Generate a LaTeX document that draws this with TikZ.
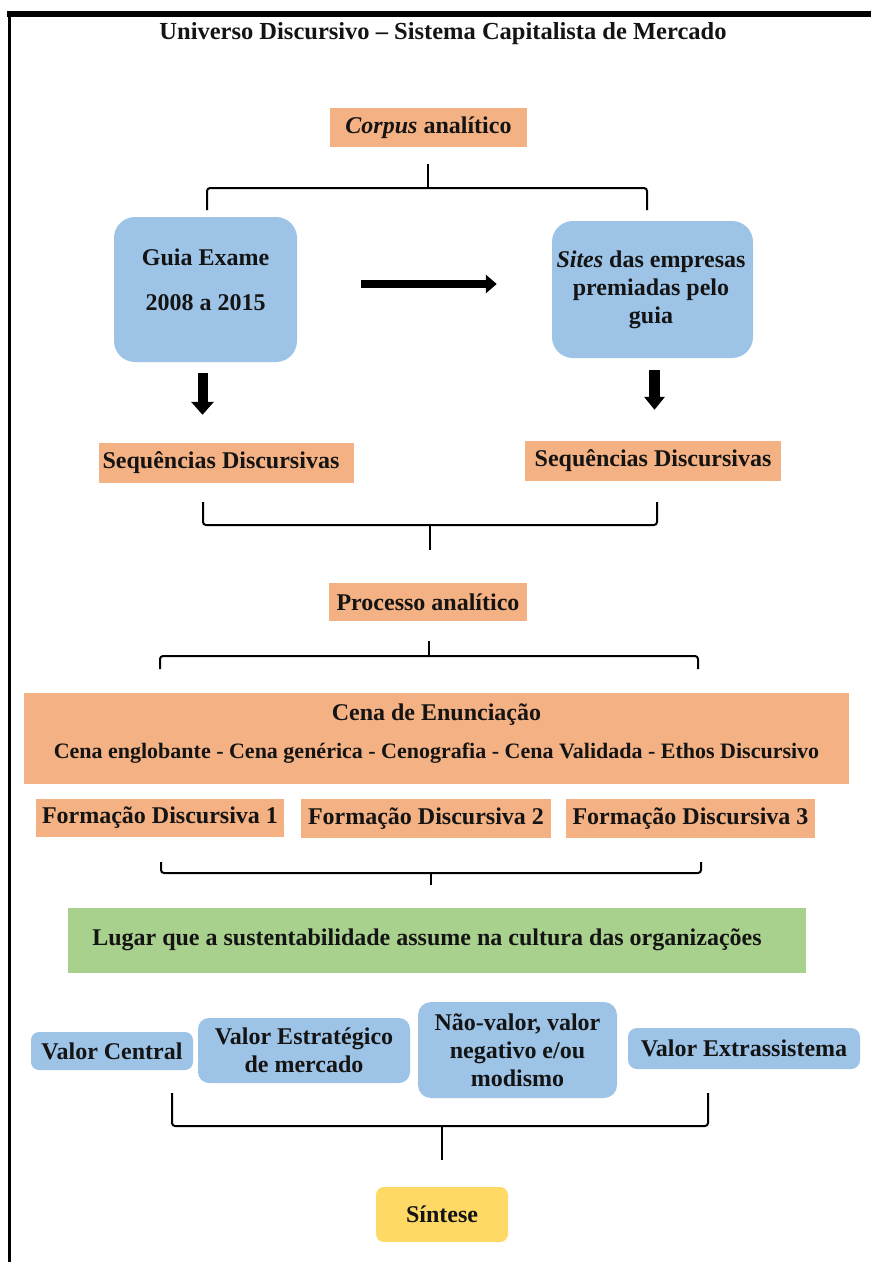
\documentclass[tikz,border=0pt]{standalone}
\usepackage{fontspec}
\setmainfont{Liberation Serif}
\usetikzlibrary{arrows.meta}
\definecolor{salmon}{HTML}{F4B183}
\definecolor{bluebx}{HTML}{9DC3E6}
\definecolor{greenbx}{HTML}{A9D18E}
\definecolor{yellowbx}{HTML}{FFD966}
\definecolor{inktxt}{HTML}{141414}
\tikzset{
  sz/.style 2 args={minimum width=#1pt, minimum height=#2pt, inner sep=0pt},
  salbox/.style={fill=salmon, draw=none},
  bluebox/.style={fill=bluebx, draw=none, rounded corners=#1pt},
  bluebox/.default=9,
  greenbox/.style={fill=greenbx, draw=none},
  yellowbox/.style={fill=yellowbx, draw=none, rounded corners=8pt},
  txt/.style={align=center, inner sep=0pt, text=inktxt},
  bracket/.style={draw=black, line width=2pt, rounded corners=3pt},
  darrow/.style={draw=black, line width=10pt, -{Triangle[width=22pt,length=13pt]}},
  harrow/.style={draw=black, line width=8pt, -{Triangle[width=18pt,length=11pt]}},
}
\begin{document}
\begin{tikzpicture}[x=1pt, y=-1pt, font=\bfseries\fontsize{24}{28}\selectfont, text=inktxt]
\useasboundingbox (0,0) rectangle (871,1262);
\fill[white] (0,0) rectangle (871,1262);
% page frame
\draw[line width=6pt] (7,14) -- (871,14);
\draw[line width=3pt] (9,11) -- (9,1262);

% title
\node[txt, font=\bfseries\fontsize{24.5}{28}\selectfont] (title) at (443,34) {Universo Discursivo -- Sistema Capitalista de Mercado};

% corpus
\node[salbox, sz={197}{39}, txt] (corpus) at (428.5,127.5) {\textit{Corpus} analítico};
\coordinate (b1s) at (428,164);
\coordinate (b1m) at (428,188);
\coordinate (b1l) at (207,210);
\coordinate (b1r) at (647,210);
\draw[bracket] (b1l) -- (b1l |- b1m) -- (b1r |- b1m) -- (b1r);
\draw[bracket] (b1s) -- (b1m);

% sources
\node[bluebox=21, sz={183}{145}] (guia) at (205.5,289.5) {};
\node[txt] (guiat) at (205.5,279.5) {Guia Exame\\[17pt]2008 a 2015};
\node[bluebox=21, sz={201}{137}] (sites) at (652.5,289.5) {};
\node[txt] (sitest) at (651,289.5) {\textit{Sites} das empresas\\premiadas pelo\\guia};

\draw[harrow, shorten <=64pt, shorten >=55pt] ([yshift=5.5pt]guia.east) -- ([yshift=5.5pt]guia.east -| sites.west);

% sequences
\node[salbox, sz={255}{40}] (seq1) at (226.5,463) {};
\node[txt] (seq1t) at (221,463) {Sequências Discursivas};
\node[salbox, sz={256}{40}, txt] (seq2) at (653,461) {Sequências Discursivas};
\draw[darrow, shorten <=11pt, shorten >=28pt] ([xshift=-3pt]guia.south) -- ([xshift=-3pt]guia.south |- seq1.north);
\draw[darrow, line width=11pt, -{Triangle[width=20pt,length=13pt]}, shorten <=12pt, shorten >=31pt] ([xshift=2pt]sites.south) -- ([xshift=2pt]sites.south |- seq2.north);

\coordinate (b2l) at (203,502);
\coordinate (b2r) at (657,502);
\coordinate (b2m) at (430,525);
\coordinate (b2s) at (430,550);
\draw[bracket] (b2l) -- (b2l |- b2m) -- (b2r |- b2m) -- (b2r);
\draw[bracket] (b2m) -- (b2s);

% processo
\node[salbox, sz={198}{38}, txt] (proc) at (428,602) {Processo analítico};
\coordinate (b3s) at (429,641);
\coordinate (b3m) at (429,656);
\coordinate (b3l) at (160,669);
\coordinate (b3r) at (698,669);
\draw[bracket] (b3l) -- (b3l |- b3m) -- (b3r |- b3m) -- (b3r);
\draw[bracket] (b3s) -- (b3m);

% cena
\node[salbox, sz={825}{91}] (cena) at (436.5,738.5) {};
\node[txt] (cenat) at (436.5,733.5) {Cena de Enunciação\\[10pt]{\fontsize{22}{26}\selectfont Cena englobante - Cena genérica - Cenografia - Cena Validada - Ethos Discursivo}};

% formacoes
\node[salbox, sz={248}{38}, txt] (fd1) at (160,818) {Formação Discursiva 1};
\node[salbox, sz={250}{39}, txt] (fd2) at (426,818.5) {Formação Discursiva 2};
\node[salbox, sz={249}{39}, txt] (fd3) at (690.5,818.5) {Formação Discursiva 3};

\coordinate (b4l) at (161,862);
\coordinate (b4r) at (701,862);
\coordinate (b4m) at (431,873);
\coordinate (b4s) at (431,885);
\draw[bracket] (b4l) -- (b4l |- b4m) -- (b4r |- b4m) -- (b4r);
\draw[bracket] (b4m) -- (b4s);

% lugar
\node[greenbox, sz={738}{65}] (lugar) at (437,940.5) {};
\node[txt] (lugart) at (427,940) {Lugar que a sustentabilidade assume na cultura das organizações};

% valores
\node[bluebox=8, sz={162}{38}, txt] (vc) at (112,1051) {Valor Central};
\node[bluebox=11, sz={212}{65}, txt] (ve) at (304,1050.5) {Valor Estratégico\\de mercado};
\node[bluebox=13, sz={199}{96}, txt] (nv) at (517.5,1050) {Não-valor, valor\\negativo e/ou\\modismo};
\node[bluebox=9, sz={232}{41}, txt] (vx) at (744,1048.5) {Valor Extrassistema};

\coordinate (b5l) at (172,1093);
\coordinate (b5r) at (708,1093);
\coordinate (b5m) at (442,1126);
\coordinate (b5s) at (442,1160);
\draw[bracket] (b5l) -- (b5l |- b5m) -- (b5r |- b5m) -- (b5r);
\draw[bracket] (b5m) -- (b5s);

% sintese
\node[yellowbox, sz={132}{55}, txt] (sint) at (442,1214.5) {Síntese};
\end{tikzpicture}
\end{document}
